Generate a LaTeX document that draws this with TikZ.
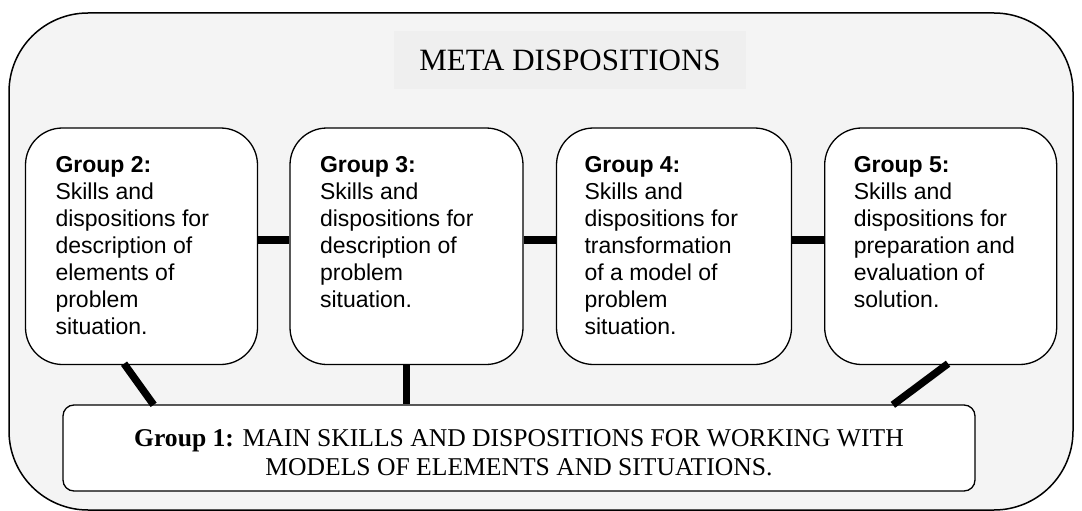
\documentclass[tikz,border=0pt]{standalone}
\usepackage{fontspec}
\setmainfont{Liberation Serif}
\newfontfamily\arialfont{Liberation Sans}
\usetikzlibrary{calc}
\definecolor{outerbg}{HTML}{F4F4F4}
\definecolor{titlebg}{HTML}{EFEFEF}
\tikzset{
  groupbox/.style={draw=black, line width=1.3pt, fill=white, rounded corners=37pt,
    minimum height=236.5pt, inner sep=0pt},
  grouptext/.style={anchor=north west, inner sep=0pt, align=left,
    font=\arialfont\fontsize{23}{27}\selectfont},
  mainbox/.style={draw=black, line width=1.3pt, fill=white, rounded corners=11pt,
    minimum width=912pt, minimum height=86pt, inner sep=0pt, align=center,
    font=\fontsize{25.6}{29.5}\selectfont},
  titlebox/.style={fill=titlebg, minimum width=352pt, minimum height=58pt, inner sep=0pt,
    font=\fontsize{31}{36}\selectfont},
  link/.style={line width=7.4pt, draw=black}
}
\begin{document}
\begin{tikzpicture}[x=1pt,y=-1pt]
\useasboundingbox (0,0) rectangle (1082,511);
\begin{scope}
\clip (0,0) rectangle (1082,511);
\draw[line width=1.5pt, fill=outerbg, rounded corners=79pt] (9,13) rectangle (1073,510);
\end{scope}

\node[titlebox] (title) at (570,60) {META DISPOSITIONS};

\node[groupbox, minimum width=232pt] (g2) at (141.5,246.25) {};
\node[groupbox, minimum width=233pt] (g3) at (406.5,246.25) {};
\node[groupbox, minimum width=235pt] (g4) at (674,246.25) {};
\node[groupbox, minimum width=232pt] (g5) at (940.7,246.25) {};

\node[grouptext] (t2) at ($(g2.north west)+(30.5,26)$) {\strut\textbf{Group 2:}\\Skills and\\dispositions for\\description of\\elements of\\problem\\situation.};
\node[grouptext] (t3) at ($(g3.north west)+(30.5,26)$) {\strut\textbf{Group 3:}\\Skills and\\dispositions for\\description of\\problem\\situation.};
\node[grouptext] (t4) at ($(g4.north west)+(28.5,26)$) {\strut\textbf{Group 4:}\\Skills and\\dispositions for\\transformation\\of a model of\\problem\\situation.};
\node[grouptext] (t5) at ($(g5.north west)+(29.5,26)$) {\strut\textbf{Group 5:}\\Skills and\\dispositions for\\preparation and\\evaluation of\\solution.};

\node[mainbox] (g1) at (519,448) {\rule{0pt}{26pt}\textbf{Group 1:} MAIN SKILLS AND DISPOSITIONS FOR WORKING WITH\\MODELS OF ELEMENTS AND SITUATIONS.};

% horizontal links
\draw[link] ($(g2.east)+(0,-6.25)$) -- ($(g3.west)+(0,-6.25)$);
\draw[link] ($(g3.east)+(0,-6.25)$) -- ($(g4.west)+(0,-6.25)$);
\draw[link] ($(g4.east)+(0,-6.25)$) -- ($(g5.west)+(0,-6.25)$);

% links to group 1
\draw[link] ($(g2.south west)+(99.2,-1.5)$) -- ($(g1.north west)+(91.3,0.5)$);
\draw[link] (g3.south) -- (g3.south |- g1.north);
\draw[link] ($(g4.south west)+(106.6,0)$) -- ($(g4.south west)+(106.6,0)$ |- g1.north);
\draw[link] ($(g5.south west)+(124,-1.5)$) -- ($(g1.north west)+(830.5,0.5)$);
\end{tikzpicture}
\end{document}
